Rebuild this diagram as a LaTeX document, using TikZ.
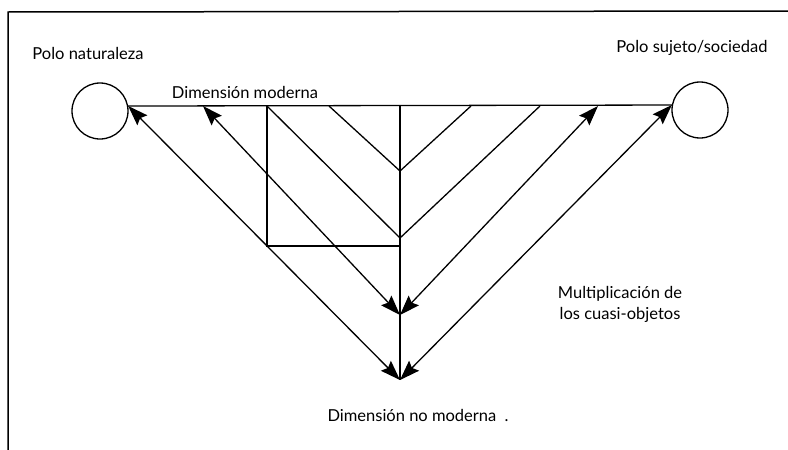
\documentclass[tikz,border=0pt]{standalone}
\usepackage{fontspec}
\setmainfont{Lato}
\usepackage{tikz}
\usetikzlibrary{arrows.meta}
\tikzset{
  pole/.style    = {circle, draw, line width=1.3pt, minimum size=56pt, inner sep=0pt},
  lbl/.style     = {font=\fontsize{16.5}{21}\selectfont, inner sep=0pt, align=center},
  rel/.style     = {{Stealth[length=20pt,width=14pt,inset=3pt]}-{Stealth[length=20pt,width=14pt,inset=3pt]},
                    line width=1.3pt},
  seg/.style     = {line width=1.3pt},
}

\begin{document}
\begin{tikzpicture}[x=1pt, y=-1pt]
  \useasboundingbox (0,0) rectangle (788,450);
  \draw[line width=1.5pt] (8,450) -- (8,12) -- (788,11);

  \node[pole] (nat) at (100,111) {};
  \node[pole] (soc) at (700,110) {};
  \node[lbl]  (natlab) at (88,53)  {Polo naturaleza};
  \node[lbl]  (soclab) at (692,48) {Polo sujeto/sociedad};
  \node[lbl]  (modlab) at (245,92) {Dimensión moderna};
  \node[lbl]  (nomlab) at (418,415) {Dimensión no moderna\hspace{0.5em}.};
  \node[lbl]  (multlab) at (620,304) {Multiplicación de\\los cuasi-objetos};

  \coordinate (top) at (400,106);
  \coordinate (apexA) at (400,315);
  \coordinate (apexB) at (400,380);
  \coordinate (v1) at (400,171);
  \coordinate (v2) at (400,238);
  \coordinate (bt) at (267,106);
  \coordinate (bl) at (267,246);
  \coordinate (bb) at (400,246);
  \coordinate (l2) at (203,106);
  \coordinate (l4) at (329,106);
  \coordinate (r4) at (471,106);
  \coordinate (r3) at (540,106);
  \coordinate (r2) at (598,106);

  \draw[seg] (nat.10) -- (soc.170);
  \draw[seg] (top) -- (apexB);
  \draw[seg] (bt) -- (bl) -- (bb);
  \draw[seg] (bt) -- (v2) -- (r3);
  \draw[seg] (l4) -- (v1) -- (r4);
  \draw[rel] (nat.10) -- (apexB);
  \draw[rel] (apexB) -- (soc.170);
  \draw[rel] (l2) -- (apexA);
  \draw[rel] (apexA) -- (r2);
\end{tikzpicture}
\end{document}
